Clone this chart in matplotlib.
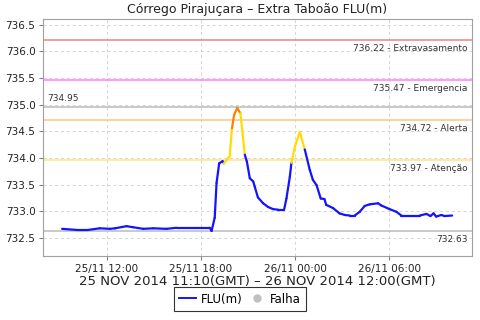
import matplotlib
matplotlib.use('Agg')
import matplotlib.pyplot as plt
import matplotlib.dates as mdates
from matplotlib.lines import Line2D
import pandas as pd

title = 'Córrego Pirajuçara – Extra Taboão FLU(m)'
x_label = '25 NOV 2014 11:10(GMT) – 26 NOV 2014 12:00(GMT)'

times = [
    '25 09:10', '25 10:05', '25 10:50', '25 11:34', '25 12:13', '25 12:32', '25 13:16', '25 13:41',
    '25 14:20', '25 14:58', '25 15:49', '25 16:27', '25 17:43', '25 18:34', '25 18:41', '25 18:53',
    '25 19:00', '25 19:10', '25 19:23', '25 19:28', '25 19:50', '25 19:59', '25 20:07', '25 20:19',
    '25 20:31', '25 20:39', '25 20:48', '25 20:56', '25 21:07', '25 21:20', '25 21:26', '25 21:38',
    '25 21:58', '25 22:17', '25 22:36', '25 22:55', '25 23:18', '25 23:27', '25 23:40', '25 23:46',
    '25 23:59', '26 00:18', '26 00:37', '26 00:56', '26 01:08', '26 01:22', '26 01:38', '26 01:52',
    '26 01:59', '26 02:25', '26 02:50', '26 03:10', '26 03:29', '26 03:48', '26 04:07', '26 04:26',
    '26 04:45', '26 05:17', '26 05:29', '26 06:01', '26 06:27', '26 06:46', '26 07:56', '26 08:22',
    '26 08:37', '26 08:49', '26 08:59', '26 09:19', '26 09:31', '26 10:00',
]
levels = [
    732.67, 732.65, 732.65, 732.68, 732.67, 732.68, 732.72, 732.70,
    732.67, 732.68, 732.67, 732.69, 732.69, 732.69, 732.63, 732.88,
    733.53, 733.90, 733.94, 733.90, 734.03, 734.56, 734.81, 734.94,
    734.84, 734.49, 734.06, 733.93, 733.62, 733.56, 733.46, 733.26,
    733.15, 733.08, 733.04, 733.03, 733.03, 733.24, 733.65, 733.91,
    734.21, 734.49, 734.16, 733.78, 733.59, 733.49, 733.24, 733.23,
    733.12, 733.06, 732.96, 732.93, 732.92, 732.92, 732.99, 733.10,
    733.13, 733.15, 733.11, 733.04, 732.99, 732.92, 732.92, 732.95,
    732.91, 732.96, 732.90, 732.93, 732.91, 732.92,
]

# reference levels: value, label, colour
ref_values = [736.22, 735.47, 734.95, 734.72, 733.97, 732.63]
ref_labels = ['736.22 - Extravasamento', '735.47 - Emergencia', '734.95',
              '734.72 - Alerta', '733.97 - Atenção', '732.63']
ref_colors = ['#f08c8c', '#ff88ff', '#c0c0c0', '#ffc88c', '#ffe68c', '#c0c0c0']

atencao = 733.97
alerta = 734.72

t = pd.to_datetime(['2014-11-' + s for s in times], format='%Y-%m-%d %H:%M')
x = mdates.date2num(t)

fig = plt.figure(figsize=(4.8, 3.2), dpi=100)
ax = fig.add_axes([0.0896, 0.2, 0.8938, 0.7406])

for v, c in zip(ref_values, ref_colors):
    ax.axhline(v, color=c, lw=1.2, zorder=2)

# colour each segment by the level it reaches
for i in range(len(x) - 1):
    end = levels[i + 1]
    if end >= alerta:
        c = '#ff8000'
    elif end >= atencao:
        c = '#ffdd00'
    else:
        c = '#1414ff'
    ax.plot(x[i:i + 2], levels[i:i + 2], color=c, lw=1.6, solid_capstyle='round', zorder=3)

x0 = mdates.date2num(pd.Timestamp('2014-11-25 07:57'))
x1 = mdates.date2num(pd.Timestamp('2014-11-26 11:16'))
ax.set_xlim(x0, x1)
ax.set_ylim(732.16, 736.61)

ax.xaxis.set_major_locator(mdates.HourLocator(byhour=[0, 6, 12, 18]))
ax.xaxis.set_major_formatter(mdates.DateFormatter('%d/%m %H:%M'))
ax.set_yticks([732.5, 733.0, 733.5, 734.0, 734.5, 735.0, 735.5, 736.0, 736.5])
ax.yaxis.set_major_formatter(matplotlib.ticker.FormatStrFormatter('%.1f'))
ax.tick_params(labelsize=7.5, length=3, pad=2.5, color='#808080', colors='#222222')
ax.grid(True, linestyle=(0, (3, 3)), color='#d4d4d4', lw=0.7)
for s in ax.spines.values():
    s.set_color('#a0a0a0')

ax.set_title(title, fontsize=9, pad=4, color='#222222')
ax.set_xlabel(x_label, fontsize=9.5, labelpad=1, color='#222222')

# labels of the reference levels
for v, lab in zip(ref_values, ref_labels):
    if lab == '734.95':
        ax.annotate(lab, (0, v), xycoords=('axes fraction', 'data'), xytext=(3, 3),
                    textcoords='offset points', fontsize=6.5, ha='left', va='bottom', color='#333333')
    else:
        ax.annotate(lab, (1, v), xycoords=('axes fraction', 'data'), xytext=(-3, -3),
                    textcoords='offset points', fontsize=6.5, ha='right', va='top', color='#333333')

handles = [Line2D([], [], color='#1414ff', lw=1.4),
           Line2D([], [], color='#c0c0c0', marker='o', ls='', markersize=5)]
leg = fig.legend(handles, ['FLU(m)', 'Falha'], loc='lower center', bbox_to_anchor=(0.5, 0.01),
                 ncol=2, fontsize=8.5, frameon=True, fancybox=False, handlelength=1.4,
                 handletextpad=0.4, columnspacing=0.5, borderpad=0.45)
leg.get_frame().set_edgecolor('black')
leg.get_frame().set_linewidth(0.8)

plt.savefig('out.png', dpi=100)
